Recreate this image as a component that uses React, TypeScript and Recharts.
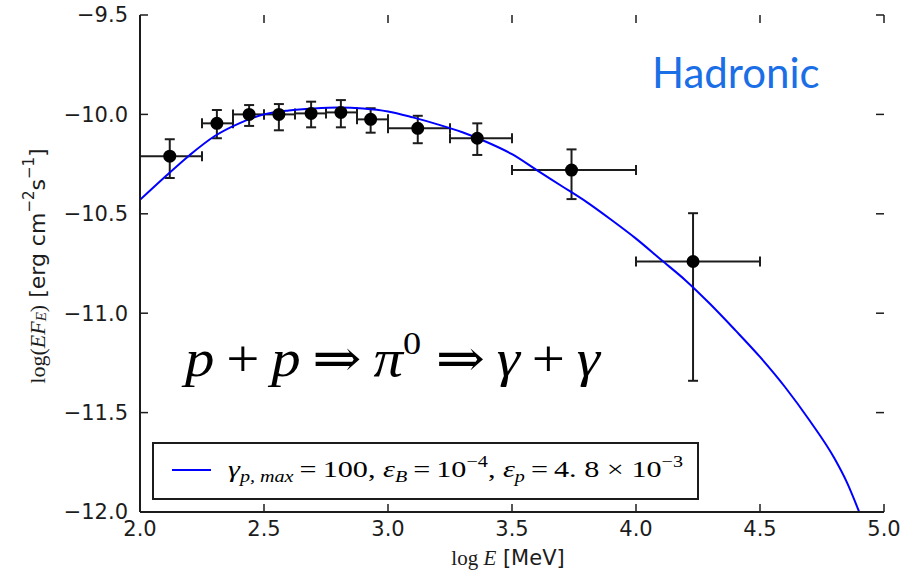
import React from "react";
import {
  ComposedChart,
  Line,
  Scatter,
  ErrorBar,
  XAxis,
  YAxis,
  ReferenceLine,
} from "recharts";

const WIDTH = 916;
const HEIGHT = 576;
const MARGIN = { top: 15, right: 32, bottom: 0, left: 0 };
const Y_AXIS_W = 140;
const X_AXIS_H = 64;

// hadronic model curve: log E [MeV] vs log(EF_E)
const curveLogE = [
  2.0, 2.1, 2.2, 2.3, 2.4, 2.5, 2.6, 2.7, 2.8, 2.9, 3.0, 3.1, 3.2, 3.3, 3.4,
  3.5, 3.6, 3.7, 3.8, 3.9, 4.0, 4.1, 4.2, 4.3, 4.4, 4.5, 4.6, 4.7, 4.8, 4.85,
  4.9,
];
const curveFlux = [
  -10.43, -10.315, -10.205, -10.11, -10.045, -10.0, -9.98, -9.97, -9.965,
  -9.97, -9.985, -10.015, -10.05, -10.09, -10.14, -10.2, -10.28, -10.36,
  -10.44, -10.53, -10.625, -10.73, -10.835, -10.955, -11.085, -11.22, -11.37,
  -11.54, -11.73, -11.85, -12.0,
];

// measured spectrum with energy bins and flux uncertainties
const pointLogE = [2.12, 2.31, 2.44, 2.56, 2.69, 2.81, 2.93, 3.12, 3.36, 3.74, 4.23];
const pointFlux = [-10.21, -10.045, -10.0, -10.0, -9.995, -9.99, -10.025, -10.07, -10.12, -10.28, -10.74];
const binLow = [2.0, 2.25, 2.375, 2.5, 2.625, 2.75, 2.875, 3.0, 3.25, 3.5, 4.0];
const binHigh = [2.25, 2.375, 2.5, 2.625, 2.75, 2.875, 3.0, 3.25, 3.5, 4.0, 4.5];
const fluxLow = [-10.32, -10.12, -10.058, -10.08, -10.065, -10.065, -10.092, -10.145, -10.204, -10.426, -11.34];
const fluxHigh = [-10.125, -9.978, -9.953, -9.948, -9.936, -9.928, -9.969, -10.007, -10.045, -10.176, -10.497];

const xTicks = [2.0, 2.5, 3.0, 3.5, 4.0, 4.5, 5.0];
const yTicks = [-12.0, -11.5, -11.0, -10.5, -10.0, -9.5];
const X_MIN = 2;
const X_MAX = 5;
const Y_MIN = -12;
const Y_MAX = -9.5;

const curveData = curveLogE.map((x, i) => ({ x, y: curveFlux[i] }));
const pointData = pointLogE.map((x, i) => ({
  x,
  y: pointFlux[i],
  xErr: [x - binLow[i], binHigh[i] - x],
  yErr: [pointFlux[i] - fluxLow[i], fluxHigh[i] - pointFlux[i]],
}));

const INK = "#1c1c1c";
const SANS = "'DejaVu Sans', sans-serif";
const SERIF = "'Liberation Serif', 'DejaVu Serif', serif";

// inward tick marks, 8px long, expressed in axis units
const PLOT_W = WIDTH - MARGIN.left - MARGIN.right - Y_AXIS_W;
const PLOT_H = HEIGHT - MARGIN.top - MARGIN.bottom - X_AXIS_H;
const TICK_PX = 8;
const TICK_DX = ((X_MAX - X_MIN) * TICK_PX) / PLOT_W;
const TICK_DY = ((Y_MAX - Y_MIN) * TICK_PX) / PLOT_H;

const fmt = (v: number) => v.toFixed(1).replace("-", "\u2212");
const tickStyle = { fill: INK, fontSize: 21, fontFamily: SANS };
const axisLine = { stroke: INK, strokeWidth: 2 };

function Dot(props: any) {
  const { cx, cy } = props;
  if (cx == null || cy == null) return null;
  return <circle cx={cx} cy={cy} r={6.5} fill="#000" />;
}

function tickMarks() {
  const marks: React.ReactNode[] = [];
  xTicks.forEach((t) => {
    marks.push(
      <ReferenceLine
        key={`b${t}`}
        segment={[{ x: t, y: Y_MIN }, { x: t, y: Y_MIN + TICK_DY }]}
        stroke={INK}
        strokeWidth={1.5}
      />,
      <ReferenceLine
        key={`t${t}`}
        segment={[{ x: t, y: Y_MAX }, { x: t, y: Y_MAX - TICK_DY }]}
        stroke={INK}
        strokeWidth={1.5}
      />
    );
  });
  yTicks.forEach((t) => {
    marks.push(
      <ReferenceLine
        key={`l${t}`}
        segment={[{ x: X_MIN, y: t }, { x: X_MIN + TICK_DX, y: t }]}
        stroke={INK}
        strokeWidth={1.5}
      />,
      <ReferenceLine
        key={`r${t}`}
        segment={[{ x: X_MAX, y: t }, { x: X_MAX - TICK_DX, y: t }]}
        stroke={INK}
        strokeWidth={1.5}
      />
    );
  });
  return marks;
}

function Annotations() {
  return (
    <svg
      width={WIDTH}
      height={HEIGHT}
      style={{ position: "absolute", left: 0, top: 0, pointerEvents: "none" }}
    >
      {/* y axis title */}
      <text
        transform="translate(37,266) rotate(-90)"
        textAnchor="middle"
        dominantBaseline="central"
        fill={INK}
        fontSize={22}
      >
        <tspan fontFamily={SERIF}>log(</tspan>
        <tspan fontFamily={SERIF} fontStyle="italic">EF</tspan>
        <tspan fontFamily={SERIF} fontStyle="italic" fontSize={15} dy={4}>E</tspan>
        <tspan fontFamily={SERIF} dy={-4}>)</tspan>
        <tspan fontFamily={SANS}> [erg cm</tspan>
        <tspan fontFamily={SANS} fontSize={15} dy={-8}>{"\u22122"}</tspan>
        <tspan fontFamily={SANS} dy={8}>s</tspan>
        <tspan fontFamily={SANS} fontSize={15} dy={-8}>{"\u22121"}</tspan>
        <tspan fontFamily={SANS} dy={8}>]</tspan>
      </text>

      {/* x axis title */}
      <text x={508} y={565} textAnchor="middle" fill={INK} fontSize={21}>
        <tspan fontFamily={SERIF}>log </tspan>
        <tspan fontFamily={SERIF} fontStyle="italic">E</tspan>
        <tspan fontFamily={SANS}> [MeV]</tspan>
      </text>

      <text
        x={652}
        y={88}
        fill="#1a6ee6"
        fontSize={42}
        fontFamily="Lato, 'Open Sans', sans-serif"
      >
        Hadronic
      </text>

      {/* reaction chain */}
      <text
        x={185}
        y={376}
        fill="#000"
        fontSize={52}
        fontFamily={SERIF}
        textLength={415}
        lengthAdjust="spacingAndGlyphs"
      >
        <tspan fontStyle="italic">p</tspan>
        <tspan>{"\u2009+\u2009"}</tspan>
        <tspan fontStyle="italic">p</tspan>
        <tspan>{"\u2009\u21d2\u2009"}</tspan>
        <tspan fontStyle="italic">{"\u03c0"}</tspan>
        <tspan fontSize={32} dy={-22}>0</tspan>
        <tspan dy={22}>{" \u21d2\u2009"}</tspan>
        <tspan fontStyle="italic">{"\u03b3"}</tspan>
        <tspan>{"\u2009+\u2009"}</tspan>
        <tspan fontStyle="italic">{"\u03b3"}</tspan>
      </text>

      {/* legend */}
      <rect x={153} y={443} width={545} height={56} fill="#fff" stroke={INK} strokeWidth={2} />
      <line x1={172} y1={470} x2={211} y2={470} stroke="#0000ff" strokeWidth={2} />
      <text
        x={228}
        y={477}
        fill="#000"
        fontSize={24}
        fontFamily={SERIF}
        textLength={455}
        lengthAdjust="spacingAndGlyphs"
      >
        <tspan fontStyle="italic">{"\u03b3"}</tspan>
        <tspan fontStyle="italic" fontSize={16} dy={5}>p, max</tspan>
        <tspan dy={-5}>{"\u2009=\u2009100, "}</tspan>
        <tspan fontStyle="italic">{"\u03b5"}</tspan>
        <tspan fontStyle="italic" fontSize={16} dy={5}>B</tspan>
        <tspan dy={-5}>{"\u2009=\u200910"}</tspan>
        <tspan fontSize={16} dy={-10}>{"\u22124"}</tspan>
        <tspan dy={10}>, </tspan>
        <tspan fontStyle="italic">{"\u03b5"}</tspan>
        <tspan fontStyle="italic" fontSize={16} dy={5}>p</tspan>
        <tspan dy={-5}>{"\u2009=\u20094. 8 \u00d7 10"}</tspan>
        <tspan fontSize={16} dy={-10}>{"\u22123"}</tspan>
      </text>
    </svg>
  );
}

export default function App() {
  return (
    <div
      style={{
        position: "absolute",
        left: 0,
        top: 0,
        width: WIDTH,
        height: HEIGHT,
        background: "#fff",
      }}
    >
      <ComposedChart width={WIDTH} height={HEIGHT} margin={MARGIN}>
        <XAxis
          dataKey="x"
          type="number"
          domain={[X_MIN, X_MAX]}
          ticks={xTicks}
          tickFormatter={fmt}
          height={X_AXIS_H}
          tickSize={6}
          tickMargin={3}
          tick={tickStyle}
          tickLine={false}
          axisLine={axisLine}
          allowDataOverflow
        />
        <XAxis
          xAxisId="top"
          orientation="top"
          dataKey="x"
          type="number"
          domain={[X_MIN, X_MAX]}
          ticks={xTicks}
          height={0}
          tick={false}
          tickLine={false}
          axisLine={axisLine}
          allowDataOverflow
        />
        <YAxis
          type="number"
          domain={[Y_MIN, Y_MAX]}
          ticks={yTicks}
          tickFormatter={fmt}
          width={Y_AXIS_W}
          tickSize={6}
          tickMargin={6}
          tick={tickStyle}
          tickLine={false}
          axisLine={axisLine}
          allowDataOverflow
        />
        <YAxis
          yAxisId="right"
          orientation="right"
          type="number"
          domain={[Y_MIN, Y_MAX]}
          ticks={yTicks}
          width={0}
          tick={false}
          tickLine={false}
          axisLine={axisLine}
          allowDataOverflow
        />
        {tickMarks()}
        <Scatter data={pointData} dataKey="y" shape={Dot} isAnimationActive={false}>
          <ErrorBar dataKey="xErr" direction="x" width={5} stroke={INK} strokeWidth={2} />
          <ErrorBar dataKey="yErr" direction="y" width={5} stroke={INK} strokeWidth={2} />
        </Scatter>
        <Line
          data={curveData}
          dataKey="y"
          type="monotone"
          stroke="#0000ff"
          strokeWidth={2}
          dot={false}
          activeDot={false}
          isAnimationActive={false}
        />
      </ComposedChart>
      <Annotations />
    </div>
  );
}
